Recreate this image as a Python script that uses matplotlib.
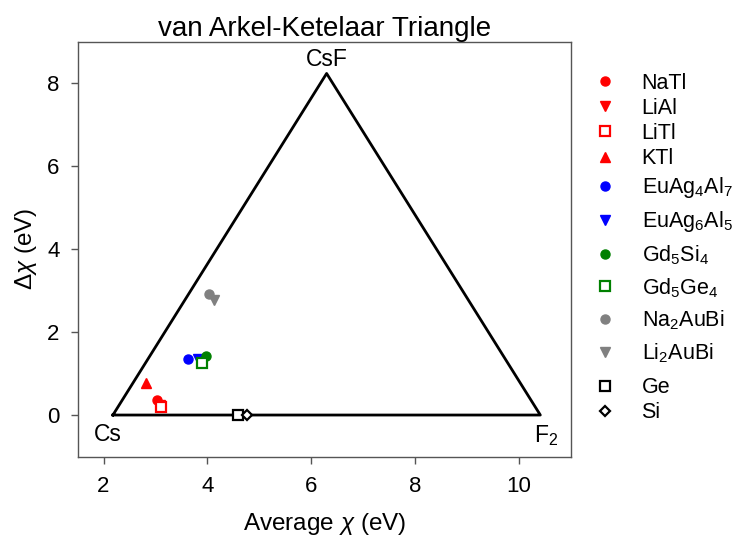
import matplotlib
matplotlib.use("Agg")
import matplotlib.pyplot as plt

plt.rcParams['font.family'] = ['Liberation Sans', 'DejaVu Sans']
plt.rcParams['mathtext.fontset'] = 'custom'
plt.rcParams['mathtext.rm'] = 'Liberation Sans'
plt.rcParams['mathtext.it'] = 'Liberation Sans:italic'

# Triangle vertices (average chi, delta chi) in eV
vertex_names = ["Cs", "CsF", "F$_2$"]
vertex_x = [2.18, 6.295, 10.41]
vertex_y = [0.0, 8.23, 0.0]

# Compounds
labels = ["NaTl", "LiAl", "LiTl", "KTl",
          "EuAg$_4$Al$_7$", "EuAg$_6$Al$_5$",
          "Gd$_5$Si$_4$", "Gd$_5$Ge$_4$",
          "Na$_2$AuBi", "Li$_2$AuBi", "Ge", "Si"]
avg_chi = [3.03, 3.08, 3.10, 2.81, 3.62, 3.81, 3.97, 3.90, 4.03, 4.13, 4.58, 4.77]
delta_chi = [0.36, 0.24, 0.20, 0.78, 1.35, 1.34, 1.43, 1.25, 2.92, 2.76, 0.0, 0.0]
markers = ["o", "v", "s", "^", "o", "v", "o", "s", "o", "v", "s", "D"]
colors = ["red", "red", "red", "red", "blue", "blue", "green", "green",
          "gray", "gray", "black", "black"]
filled = [True, True, False, True, True, True, True, False, True, True, False, False]

fig = plt.figure(figsize=(7.32, 5.39), dpi=100)
ax = fig.add_axes([0.106, 0.153, 0.674, 0.770])

tx = vertex_x + [vertex_x[0]]
ty = vertex_y + [vertex_y[0]]
ax.plot(tx, ty, color="black", lw=2.0, zorder=1)

handles = []
for lab, x, y, m, c, f in zip(labels, avg_chi, delta_chi, markers, colors, filled):
    ms = 5.5 if m == "D" else 6.5
    h, = ax.plot([x], [y], linestyle="none", marker=m, markersize=ms,
                 markerfacecolor=c if f else "white", markeredgecolor=c,
                 markeredgewidth=1.6 if not f else 1.0, label=lab, zorder=3)
    handles.append(h)

ax.text(vertex_x[0] - 0.1, vertex_y[0] - 0.2, vertex_names[0], fontsize=16.5,
        ha="center", va="top")
ax.text(vertex_x[1], vertex_y[1] + 0.05, vertex_names[1], fontsize=16.5,
        ha="center", va="bottom")
ax.text(vertex_x[2] + 0.12, vertex_y[2] - 0.2, vertex_names[2], fontsize=16.5,
        ha="center", va="top")

ax.set_xlim(1.5, 11.0)
ax.set_ylim(-1.0, 9.0)
ax.set_xticks([2, 4, 6, 8, 10])
ax.set_yticks([0, 2, 4, 6, 8])
ax.tick_params(direction="out", length=5, width=1, color="#555555",
               labelsize=16)
ax.tick_params(axis="x", pad=9)
ax.tick_params(axis="y", pad=8)
for s in ax.spines.values():
    s.set_color("#555555")
    s.set_linewidth(1.0)

ax.set_xlabel(r"Average $\chi$ (eV)", fontsize=17.5, labelpad=10)
ax.set_ylabel(r"$\Delta\chi$ (eV)", fontsize=17.5, labelpad=6)
ax.set_title("van Arkel-Ketelaar Triangle", fontsize=20, pad=2)

# legend in three blocks: plain names, subscripted formulas, elements
groups = [(slice(0, 4), 0.865, 0.19),
          (slice(4, 10), 0.675, 0.42),
          (slice(10, 12), 0.300, 0.19)]
for sl, top, spacing in groups:
    fig.legend(handles[sl], labels[sl], loc="upper left",
               bbox_to_anchor=(0.797, top), frameon=False, fontsize=15.5,
               handletextpad=0.7, labelspacing=spacing, borderaxespad=0,
               borderpad=0)

fig.savefig("out.png", dpi=100)
